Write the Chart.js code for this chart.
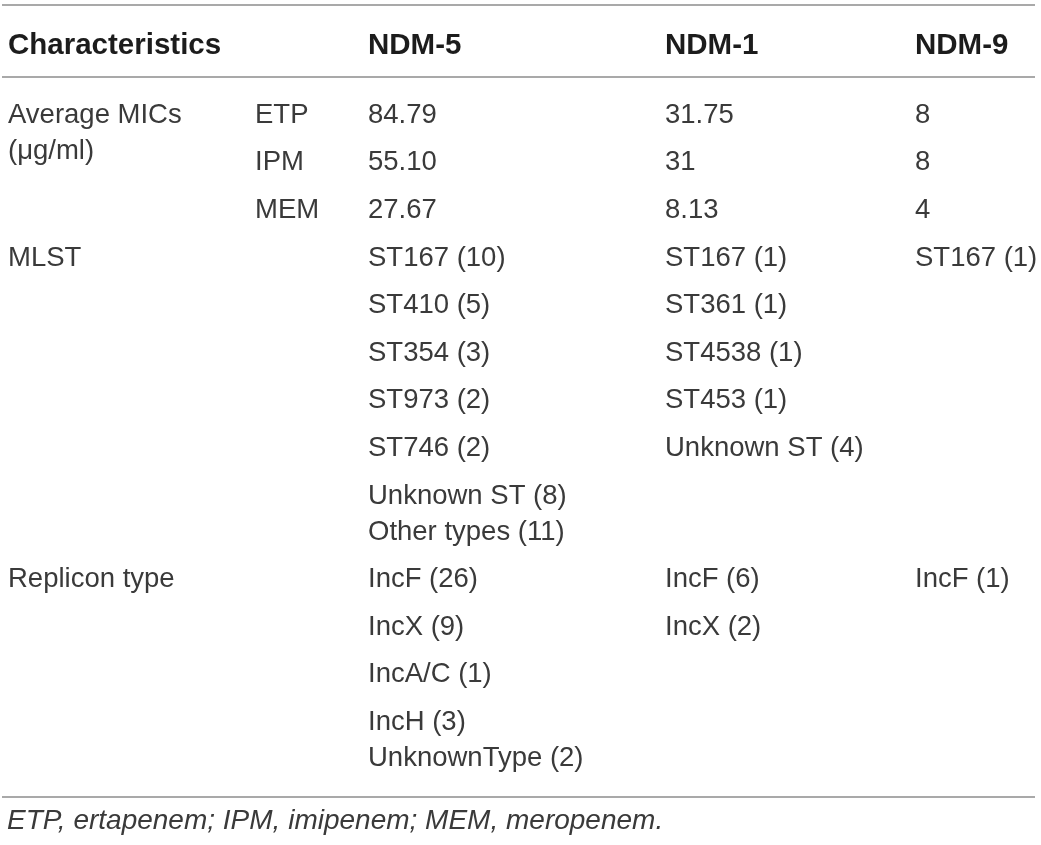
<!DOCTYPE html>
<html lang="en">
<head>
  <meta charset="UTF-8" />
  <title>NDM variants - characteristics</title>
  <script src="https://cdn.jsdelivr.net/npm/chart.js@4"></script>
  <style>
    body { margin:0; background:#fff; }
    #wrap { width:1041px; height:845px; }
  </style>
</head>
<body>
  <div id="wrap"><canvas id="tbl" width="1041" height="845"></canvas></div>

  <script>
    // table content ("\n" = second line inside the same cell)
    const headers = ['Characteristics', '', 'NDM-5', 'NDM-1', 'NDM-9'];
    const micLabel = 'Average MICs\n(\u03bcg/ml)';
    const drugs = ['ETP', 'IPM', 'MEM'];
    const micNDM5 = ['84.79', '55.10', '27.67'];
    const micNDM1 = ['31.75', '31', '8.13'];
    const micNDM9 = ['8', '8', '4'];
    const mlstLabel = 'MLST';
    const mlstNDM5 = ['ST167 (10)', 'ST410 (5)', 'ST354 (3)', 'ST973 (2)', 'ST746 (2)', 'Unknown ST (8)\nOther types (11)'];
    const mlstNDM1 = ['ST167 (1)', 'ST361 (1)', 'ST4538 (1)', 'ST453 (1)', 'Unknown ST (4)'];
    const mlstNDM9 = ['ST167 (1)'];
    const repLabel = 'Replicon type';
    const repNDM5 = ['IncF (26)', 'IncX (9)', 'IncA/C (1)', 'IncH (3)\nUnknownType (2)'];
    const repNDM1 = ['IncF (6)', 'IncX (2)'];
    const repNDM9 = ['IncF (1)'];
    const footnote = 'ETP, ertapenem; IPM, imipenem; MEM, meropenem.';

    // layout, in canvas pixels
    const colX = [8, 255, 368, 665, 915];
    const headY = 43, firstY = 113, rowStep = 47.6, wrapStep = 36;
    const ruleY = [5, 77, 797];
    const ruleX = [2, 1035];
    const footY = 819;
    const FONT = "'Liberation Sans', Arial, sans-serif";

    const blocks = [
      { label: micLabel, cols: [drugs, micNDM5, micNDM1, micNDM9] },
      { label: mlstLabel, cols: [[], mlstNDM5, mlstNDM1, mlstNDM9] },
      { label: repLabel, cols: [[], repNDM5, repNDM1, repNDM9] }
    ];

    // build one point per text line
    const cells = [];
    headers.forEach((h, c) => { if (h) cells.push({ x: colX[c], y: headY, text: h, style: 'head' }); });

    let y = firstY;
    blocks.forEach(b => {
      b.label.split('\n').forEach((t, k) => cells.push({ x: colX[0], y: y + k * wrapStep, text: t, style: 'body' }));
      const n = Math.max(...b.cols.map(col => col.length));
      for (let i = 0; i < n; i++) {
        let extra = 0;
        b.cols.forEach((col, c) => {
          if (i >= col.length) return;
          const parts = col[i].split('\n');
          parts.forEach((t, k) => cells.push({ x: colX[c + 1], y: y + k * wrapStep, text: t, style: 'body' }));
          extra = Math.max(extra, parts.length - 1);
        });
        y += rowStep + extra * wrapStep;
      }
    });
    cells.push({ x: colX[0] - 1, y: footY, text: footnote, style: 'foot' });

    const ruleSets = ruleY.map(ry => ({
      type: 'line',
      data: [{ x: ruleX[0], y: ry }, { x: ruleX[1], y: ry }],
      borderColor: '#a9a9a9',
      borderWidth: 2,
      pointRadius: 0,
      showLine: true,
      fill: false
    }));

    const styles = {
      head: { font: `bold 29.5px ${FONT}`, size: 29.5, color: '#1c1c1c' },
      body: { font: `27.5px ${FONT}`, size: 27.5, color: '#3a3a3a' },
      foot: { font: `italic 28px ${FONT}`, size: 28, color: '#3a3a3a' }
    };

    // writes each cell's text where the scales put its point
    const cellText = {
      id: 'cellText',
      afterDatasetsDraw(chart) {
        const ctx = chart.ctx;
        const meta = chart.getDatasetMeta(0);
        ctx.save();
        ctx.textAlign = 'left';
        ctx.textBaseline = 'alphabetic';
        meta.data.forEach((pt, i) => {
          const d = cells[i];
          const s = styles[d.style];
          ctx.font = s.font;
          ctx.fillStyle = s.color;
          ctx.fillText(d.text, pt.x, pt.y + s.size * 0.358);
        });
        ctx.restore();
      }
    };

    new Chart(document.getElementById('tbl'), {
      type: 'scatter',
      data: {
        datasets: [
          { data: cells, pointRadius: 0, pointHoverRadius: 0 },
          ...ruleSets
        ]
      },
      options: {
        responsive: false,
        animation: false,
        events: [],
        layout: { padding: 0 },
        plugins: { legend: { display: false }, tooltip: { enabled: false } },
        scales: {
          x: { type: 'linear', min: 0, max: 1041, display: false },
          y: { type: 'linear', min: 0, max: 845, reverse: true, display: false }
        }
      },
      plugins: [cellText]
    });
  </script>
</body>
</html>
